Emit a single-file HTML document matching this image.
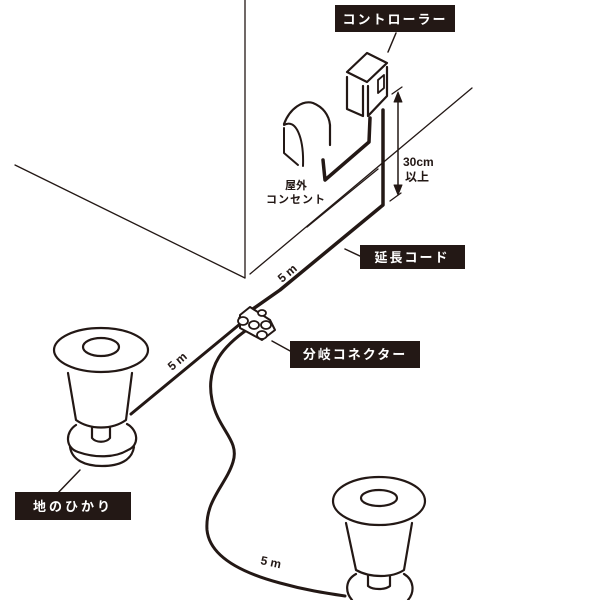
<!DOCTYPE html>
<html><head><meta charset="utf-8"><style>
html,body{margin:0;padding:0;background:#fff;}
svg{display:block}
.t{font-family:"Liberation Sans","Noto Sans CJK JP",sans-serif;font-weight:bold;}
</style></head><body>
<svg width="600" height="600" viewBox="0 0 600 600" xmlns="http://www.w3.org/2000/svg">
<g stroke="#231815" fill="none" stroke-linecap="round" stroke-linejoin="round">
<!-- wall and floor -->
<line x1="245" y1="0" x2="245" y2="278" stroke-width="1.3"/>
<line x1="15" y1="165" x2="245" y2="278" stroke-width="1.3"/>
<line x1="250" y1="274" x2="472" y2="88" stroke-width="1.3"/>
<line x1="307" y1="227" x2="378" y2="169" stroke-width="1.3"/>
<line x1="390" y1="201" x2="401" y2="193" stroke-width="1.3"/>
<line x1="392" y1="94" x2="402" y2="87" stroke-width="1.3"/>
<!-- dimension -->
<line x1="398" y1="95" x2="398" y2="192" stroke-width="1.5"/>
<path d="M394,102 L398,92 L402,102 Z M394,185 L398,195 L402,185 Z" fill="#231815"/>
<!-- controller -->
<path d="M347,72 L367,53 L387,63 L367,82 Z" stroke-width="2.2"/>
<path d="M347,77 L347,109 L363,116 L363,86" stroke-width="2.2"/>
<path d="M368,86 L368,116 L387,96 L387,67" stroke-width="2.2"/>
<path d="M378,80 L384,75 L384,88 L378,93 Z" stroke-width="1.8"/>
<!-- outlet -->
<path d="M284,124 C290,108 303,100 313,103 C323,107 329,115 330,125 L330,145" stroke-width="2.2"/>
<path d="M284,125 C296,118 304,138 303,166" stroke-width="2"/>
<path d="M284,128 L284,153 L298,165" stroke-width="2"/>
<!-- controller to outlet cord -->
<path d="M370,118 L369,142 L325,180 L323,160" stroke-width="3.5"/>
<!-- main cord -->
<path d="M383,110 L383,205 L280,290 L240,318" stroke-width="3.5"/>
<!-- cord to left lamp -->
<line x1="240" y1="324" x2="131" y2="414" stroke-width="3"/>
<!-- wavy cord -->
<path d="M248,329 C225,345 205,365 212,400 C218,430 240,440 233,462 C226,485 205,500 207,530 C210,560 250,575 280,583 C305,590 325,593 345,596" stroke-width="3"/>
<!-- connector -->
<path d="M240,315 L250,307 L270,320 L275,330 L262,340 L240,328 Z" fill="#fff" stroke-width="2"/>
<ellipse cx="243" cy="321" rx="5" ry="4" fill="#fff" stroke-width="1.8"/>
<ellipse cx="254" cy="325" rx="5" ry="4" fill="#fff" stroke-width="1.8"/>
<ellipse cx="262" cy="335" rx="5" ry="4" fill="#fff" stroke-width="1.8"/>
<ellipse cx="266" cy="325" rx="5" ry="4" fill="#fff" stroke-width="1.8"/>
<ellipse cx="262" cy="313" rx="4" ry="3" fill="#fff" stroke-width="1.8"/>
<!-- left lamp -->
<ellipse cx="101" cy="350" rx="47" ry="22" stroke-width="2.2"/>
<ellipse cx="101" cy="347" rx="18" ry="9" stroke-width="2.2"/>
<path d="M68,373 L76,420 C90,430 112,430 126,420 L132,373" stroke-width="2.2"/>
<path d="M92,428 L92,438 C96,443 106,443 110,438 L110,428" stroke-width="2.2"/>
<path d="M76,425 C65,432 65,448 78,452 C95,458 115,458 128,450 C140,445 138,430 127,424" stroke-width="2.2"/>
<path d="M70,447 C72,460 85,466 102,466 C120,466 132,460 134,447" stroke-width="2.2"/>
<!-- right lamp -->
<ellipse cx="379" cy="501" rx="46" ry="24" stroke-width="2.2"/>
<ellipse cx="379" cy="498" rx="18" ry="8" stroke-width="2.2"/>
<path d="M346,523 L356,570 C370,578 392,578 404,570 L412,523" stroke-width="2.2"/>
<path d="M368,576 L368,586 C373,590 385,590 390,586 L390,576" stroke-width="2.2"/>
<path d="M356,574 C345,580 345,592 352,600 M404,574 C414,580 415,592 408,600" stroke-width="2.2"/>
<!-- pointer lines -->
<line x1="396" y1="33" x2="388" y2="52" stroke-width="1.5"/>
<line x1="345" y1="249" x2="362" y2="257" stroke-width="1.5"/>
<line x1="272" y1="341" x2="292" y2="352" stroke-width="1.5"/>
<line x1="80" y1="470" x2="55" y2="496" stroke-width="1.5"/>
</g>
<!-- labels -->
<rect x="335" y="5" width="120" height="27" fill="#231815"/>
<text x="395" y="24" class="t" font-size="13" fill="#fff" text-anchor="middle" letter-spacing="2">コントローラー</text>
<rect x="360" y="245" width="105" height="24" fill="#231815"/>
<text x="412" y="262" class="t" font-size="13" fill="#fff" text-anchor="middle" letter-spacing="2">延長コード</text>
<rect x="290" y="341" width="130" height="27" fill="#231815"/>
<text x="355" y="359" class="t" font-size="13" fill="#fff" text-anchor="middle" letter-spacing="2">分岐コネクター</text>
<rect x="15" y="492" width="116" height="28" fill="#231815"/>
<text x="73" y="511" class="t" font-size="13" fill="#fff" text-anchor="middle" letter-spacing="3">地のひかり</text>
<g class="t" fill="#231815" font-size="11">
<text x="296" y="189" text-anchor="middle">屋外</text>
<text x="296" y="203" text-anchor="middle" letter-spacing="1">コンセント</text>
<text x="403" y="166" font-size="12">30cm</text>
<text x="405" y="181" font-size="12">以上</text>
<text x="0" y="0" font-size="12" transform="translate(282,283) rotate(-40)">5 m</text>
<text x="0" y="0" font-size="12" transform="translate(172,371) rotate(-40)">5 m</text>
<text x="0" y="0" font-size="12" transform="translate(260,564) rotate(12)">5 m</text>
</g>
</svg>
</body></html>
